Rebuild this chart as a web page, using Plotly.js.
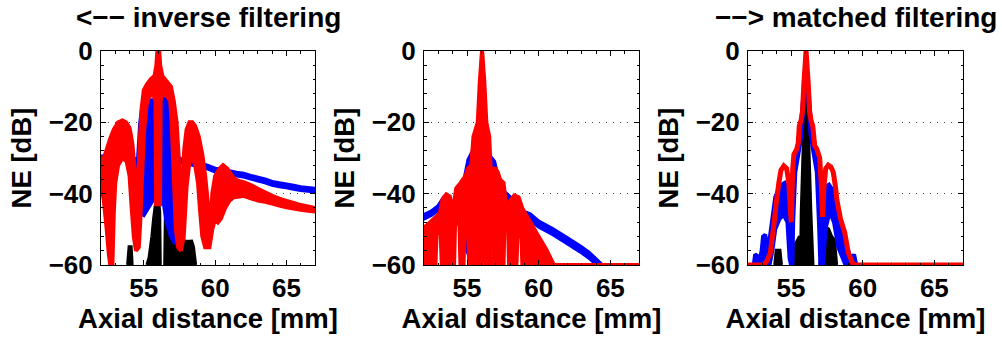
<!DOCTYPE html>
<html>
<head>
<meta charset="utf-8">
<script src="https://cdn.plot.ly/plotly-3.0.1.min.js"></script>
<style>html,body{margin:0;padding:0;background:#fff;}#chart{width:1002px;height:339px;}</style>
</head>
<body>
<div id="chart"></div>
<script>
// ---------------- data ----------------
const panelTitles = ["&lt;\u2212\u2212 inverse filtering", "", "\u2212\u2212&gt; matched filtering"];
const xTickVals = [55, 60, 65];
const yTickVals = [-60, -40, -20, 0];
const xRange = [52, 67];
const yRange = [-60, 0];

// Panel 1 (inverse filtering)
const p1BlackX = [53.9,54.0,54.08,54.15,null,55.25,55.4,55.5,55.6,55.72,55.85,56.0,56.08,56.12,null,56.5,56.55,56.7,56.85,57.0,57.1,57.25,57.4,57.55,57.7,57.85,58.0,58.15,58.3,58.45,58.6];
const p1BlackY = [-60,-55,-55,-60,null,-60,-58,-55,-52,-47,-43,-42,-45,-60,null,-60,-45,-44,-47,-50,-48,-52,-50,-53,-51,-55,-53,-56,-53,-55,-60];

const p1BlueHiX = [52,52.5,53,53.5,54,54.4,54.6,54.75,54.9,55.2,55.5,55.8,56,56.25,56.5,56.8,57,57.2,57.35,57.5,58,58.5,59,59.5,60,60.5,61,61.5,62,62.5,63,63.5,64,64.5,65,65.5,66,66.5,67];
const p1BlueHiY = [-29.5,-29.8,-29.2,-28.6,-29.2,-30.5,-30,-20,-15.5,-14.5,-13.8,-13.8,-14.5,-13.2,-13.5,-15,-18,-24,-29,-30.3,-30.6,-31.2,-31.6,-32.2,-33,-33.3,-33.7,-34.1,-34.4,-35,-35.5,-36,-36.7,-37.1,-37.4,-37.8,-38.2,-38.4,-38.6];
const p1BlueLoX = [52,52.5,53,53.5,54,54.4,54.6,55,55.3,55.6,55.8,55.85,56.2,56.3,56.6,56.9,57.2,57.4,57.5,58,58.5,59,59.5,60,60.5,61,61.5,62,62.5,63,63.5,64,64.5,65,65.5,66,66.5,67];
const p1BlueLoY = [-30.3,-30.6,-30,-29.4,-30,-31.3,-45,-46,-44,-42,-30,-15,-15,-40,-48,-52,-54,-50,-31.1,-31.4,-32,-32.4,-33,-33.8,-34.1,-34.5,-34.9,-35.2,-35.8,-36.3,-36.8,-37.5,-37.9,-38.2,-38.6,-39,-39.2,-39.4];

const p1RedHiX = [52,52.25,52.45,52.65,52.9,53.2,53.5,53.75,54,54.2,54.35,54.5,54.55,54.62,54.72,54.85,55,55.2,55.5,55.75,55.88,55.95,56.08,56.15,56.3,56.6,56.9,57.1,57.3,57.45,57.55,57.6,57.7,57.85,58,58.2,58.4,58.6,58.85,59.1,59.3,59.5,59.6,59.65,59.8,60,60.3,60.55,60.85,61.1,61.4,61.7,62,62.5,63,63.5,64,64.5,65,65.5,66,66.5,67];
const p1RedHiY = [-30.5,-29.5,-27,-24.5,-22,-20,-19.5,-20,-21.5,-26,-33,-42,-47,-35,-25,-16,-11,-9.5,-7.8,-7,-4,0,0,-4,-7,-8.5,-10,-14,-20,-30,-42,-48,-36,-27,-22,-20,-20,-21,-24,-29,-35,-43,-50,-53,-40,-35,-33,-32,-33,-34.5,-36,-36.5,-36.8,-37.6,-38.6,-39.6,-40.6,-41.4,-42,-42.6,-43.2,-43.6,-44];
const p1RedLoX = [52,52.2,52.4,52.55,52.65,52.8,52.9,53,53.2,53.5,53.8,54,54.15,54.3,54.45,54.65,54.75,54.85,54.95,55.05,55.2,55.4,55.7,55.82,55.86,56.14,56.18,56.3,56.6,56.85,56.95,57.05,57.15,57.25,57.4,57.6,57.8,57.9,58,58.2,58.4,58.6,58.8,58.95,59.1,59.3,59.6,59.8,60,60.2,60.4,60.7,61,61.3,61.7,62,62.5,63,63.5,64,64.5,65,65.5,66,66.5,67];
const p1RedLoY = [-37,-42,-50,-57,-60,-60,-45,-37,-32,-30,-31,-35,-44,-52,-56,-55,-48,-38,-28,-21,-15,-12.5,-12.5,-14,-43,-43,-14,-12,-12.5,-14,-20,-30,-40,-50,-55,-56,-52,-45,-38,-31,-30,-32,-37,-45,-52,-55,-55,-50,-47,-48,-47,-44,-42,-41,-40.8,-40.6,-41.3,-41.9,-42.3,-42.8,-43.3,-43.8,-44.2,-44.5,-44.8,-45];

// Panel 2
const p2BlackX = [55.88,55.97,56.05,56.15,56.3,56.38,null,57.38,57.45,57.52];
const p2BlackY = [-60,-15,0,-15,-28,-60,null,-60,-51,-60];

const p2BlueHiX = [52,52.5,53,53.4,53.7,54,54.4,54.8,55.1,55.35,55.6,55.9,56.05,56.3,56.6,56.9,57.2,57.6,58,58.4,58.8,59.4,60,61,62,62.9,63.5,64.1,64.4,67];
const p2BlueHiY = [-46,-45,-43.5,-41,-41.5,-42.5,-40.5,-36.5,-30.5,-28.5,-28.5,-29.5,-25,-29.5,-29.5,-31,-36.5,-39.5,-41,-42.8,-44.8,-45.8,-47.8,-50,-52.5,-54.8,-56.5,-58.8,-60,-60];
const p2BlueLoX = [52,52.5,53,53.4,53.7,54,54.4,54.8,55.2,55.5,56.8,57.2,57.6,58,58.4,58.8,59.4,60,61,62,62.9,63.5,64.1,67];
const p2BlueLoY = [-47,-46,-44.5,-42.2,-43,-44.5,-47.5,-54.5,-57.5,-60,-60,-57.5,-49.5,-44.5,-44.5,-46.2,-47.2,-49.2,-51.4,-53.9,-56.2,-57.9,-60,-60];

const p2RedHiX = [52,52.3,52.7,53.1,53.3,53.55,53.8,54,54.25,54.55,54.9,55.05,55.3,55.45,55.75,55.9,56.05,56.2,56.35,56.55,56.65,57,57.15,57.3,57.55,57.75,58,58.3,58.6,58.85,59.2,59.85,60.55,61,61.1,67];
const p2RedHiY = [-49.5,-48.5,-47,-45.5,-41.5,-40.2,-40.8,-45,-38.5,-37,-35,-33,-32,-24,-20,-8,0,-8,-20,-24,-33,-33,-34,-36,-37,-44,-42,-40.5,-41,-44,-46.5,-51,-55.8,-59.5,-60,-60];
const p2RedLoX = [52,52.8,52.88,53.16,53.24,54.1,54.18,54.46,54.54,54.76,54.83,55.08,55.15,55.72,55.78,55.96,55.99,56.11,56.14,56.32,56.36,56.4,56.44,56.66,56.7,57.55,57.61,57.87,57.93,58.45,58.52,58.8,58.86,67];
const p2RedLoY = [-60,-60,-51,-51,-60,-60,-46,-46,-60,-60,-50,-50,-60,-60,-35,-35,-60,-60,-34,-34,-60,-60,-36,-36,-60,-60,-49,-49,-60,-60,-52,-52,-60,-60];

// Panel 3 (matched filtering)
const p3BlackX = [53.9,54.0,54.2,54.3,null,55.25,55.35,55.5,55.62,55.7,55.75,55.9,56.05,56.2,56.35,56.5,null,57.05,57.2,57.4,57.6,57.8,58.0,58.15];
const p3BlackY = [-60,-56,-56,-60,null,-60,-54,-53,-52,-60,-45,-25,0,-25,-45,-60,null,-60,-53,-49.5,-50,-52,-53,-60];

const p3BlueHiX = [52,52.4,52.5,52.65,52.8,52.95,53.05,53.2,53.35,53.5,53.7,53.9,54.1,54.35,54.55,54.75,54.9,55,55.08,55.15,55.4,55.55,55.7,55.85,56.05,56.25,56.4,56.55,56.75,56.95,57.05,57.15,57.3,57.45,57.65,57.9,58.1,58.3,58.5,58.7,58.85,59,59.2,59.4,59.55,67];
const p3BlueHiY = [-60,-60,-57,-57.5,-59,-56,-52,-51.5,-55,-53,-47,-41,-39,-37.5,-37,-39,-45,-55,-42,-32,-28.5,-24,-20.5,-13,-1,-13,-20.5,-24,-28.5,-32,-42,-55,-42,-38,-37.5,-39,-43,-48,-49,-52,-55,-56,-59,-57,-60,-60];
const p3BlueLoX = [52,53.5,53.7,53.9,54.2,54.5,54.75,54.9,55,55.1,55.15,55.3,55.55,55.75,55.95,56.05,56.15,56.35,56.55,56.8,56.95,57.05,57.25,57.4,57.7,58,58.3,58.6,58.8,67];
const p3BlueLoY = [-60,-60,-56,-50,-47,-46,-48,-58,-60,-60,-48,-34,-28,-23,-10,-4,-10,-23,-28,-34,-48,-60,-60,-50,-45,-48,-55,-58,-60,-60];

const p3RedX = [52,53.1,53.3,53.55,53.8,54,54.15,54.3,54.5,54.7,54.85,54.95,55.02,55.12,55.2,55.4,55.5,55.58,55.7,55.8,55.9,56.05,56.2,56.3,56.4,56.52,56.65,56.8,57,57.12,57.2,57.3,57.42,57.6,57.78,57.95,58.1,58.2,58.45,58.75,59,59.3,59.45,67];
const p3RedY = [-60,-60,-59,-56.7,-49,-41.7,-37,-33.4,-32.2,-33,-37,-44,-48,-33,-29,-27.5,-26,-21,-19.5,-17,-9,0,-9,-17,-19.5,-21,-26.5,-27.5,-30,-38,-46.5,-38,-33,-32,-32.5,-34,-38,-41.7,-47,-51,-56.6,-59.5,-60,-60];

// ---------------- drawing ----------------
const BLACK = '#000000', BLUE = '#0000ff', RED = '#ff0000';
const LW = 4;

function bandTrace(xh, yh, xl, yl, color, ax) {
  const X = xh.slice(), Y = yh.slice();
  for (let i = xl.length - 1; i >= 0; i--) { X.push(xl[i]); Y.push(yl[i]); }
  X.push(xh[0]); Y.push(yh[0]);
  return {type:'scatter', mode:'lines', x:X, y:Y, fill:'toself', fillcolor:color,
          line:{color:color, width:LW, simplify:false}, xaxis:'x'+ax, yaxis:'y'+ax, hoverinfo:'skip', showlegend:false};
}
function floorTrace(xs, ys, color, ax) {
  return {type:'scatter', mode:'lines', x:xs, y:ys, fill:'toself', fillcolor:color, connectgaps:false,
          line:{color:color, width:LW, simplify:false}, xaxis:'x'+ax, yaxis:'y'+ax, hoverinfo:'skip', showlegend:false};
}
function lineTrace(xs, ys, color, ax, w) {
  return {type:'scatter', mode:'lines', x:xs, y:ys, line:{color:color, width:w, simplify:false},
          xaxis:'x'+ax, yaxis:'y'+ax, hoverinfo:'skip', showlegend:false};
}

const traces = [
  floorTrace(p1BlackX, p1BlackY, BLACK, ''),
  bandTrace(p1BlueHiX, p1BlueHiY, p1BlueLoX, p1BlueLoY, BLUE, ''),
  bandTrace(p1RedHiX, p1RedHiY, p1RedLoX, p1RedLoY, RED, ''),
  floorTrace(p2BlackX, p2BlackY, BLACK, '2'),
  bandTrace(p2BlueHiX, p2BlueHiY, p2BlueLoX, p2BlueLoY, BLUE, '2'),
  bandTrace(p2RedHiX, p2RedHiY, p2RedLoX, p2RedLoY, RED, '2'),
  floorTrace(p3BlackX, p3BlackY, BLACK, '3'),
  bandTrace(p3BlueHiX, p3BlueHiY, p3BlueLoX, p3BlueLoY, BLUE, '3'),
  lineTrace(p3RedX, p3RedY, RED, '3', 5)
];

const W = 1002, H = 339;
const FONT = 'Liberation Sans, Arial, Helvetica, sans-serif';
const panelsPx = [[101, 315], [424, 639], [748, 963]];
const yTopPx = 51, yBotPx = 265;

function xAxis(i) {
  return {
    domain: [panelsPx[i][0] / W, panelsPx[i][1] / W],
    anchor: i === 0 ? 'y' : 'y' + (i + 1),
    range: xRange, tickvals: xTickVals, ticktext: xTickVals.map(String),
    ticks: 'inside', ticklen: 5, tickwidth: 1, tickcolor: '#000',
    minor: {ticks: 'inside', ticklen: 2.5, tickwidth: 1, dtick: 1, tick0: 0, tickcolor: '#000'},
    showline: true, linecolor: '#000', linewidth: 1, mirror: 'ticks',
    showgrid: false, zeroline: false, automargin: false,
    tickfont: {family: FONT, size: 26, color: '#000', weight: 'bold'},
    ticklabelstandoff: 0,
    title: {text: 'Axial distance [mm]', font: {family: FONT, size: 27.5, color: '#000', weight: 'bold'}, standoff: 5}
  };
}
function yAxis(i) {
  return {
    domain: [1 - yBotPx / H, 1 - yTopPx / H],
    anchor: i === 0 ? 'x' : 'x' + (i + 1),
    range: yRange, tickvals: yTickVals,
    ticks: 'inside', ticklen: 5, tickwidth: 1, tickcolor: '#000',
    minor: {ticks: 'inside', ticklen: 2.5, tickwidth: 1, dtick: 4, tick0: 0, tickcolor: '#000'},
    showline: true, linecolor: '#000', linewidth: 1, mirror: 'ticks',
    showgrid: true, gridcolor: '#444', gridwidth: 1, griddash: '1px,6px',
    zeroline: false, automargin: false,
    tickfont: {family: FONT, size: 26, color: '#000', weight: 'bold'},
    ticklabelstandoff: 2,
    title: {text: 'NE [dB]', font: {family: FONT, size: 27.5, color: '#000', weight: 'bold'}, standoff: 9}
  };
}

const layout = {
  width: W, height: H,
  margin: {l: 0, r: 0, t: 0, b: 0, pad: 0},
  paper_bgcolor: '#fff', plot_bgcolor: '#fff',
  showlegend: false, hovermode: false,
  xaxis: xAxis(0), yaxis: yAxis(0),
  xaxis2: xAxis(1), yaxis2: yAxis(1),
  xaxis3: xAxis(2), yaxis3: yAxis(2),
  annotations: panelTitles.map((t, i) => ({
    text: t, showarrow: false,
    xref: (i === 0 ? 'x' : 'x' + (i + 1)) + ' domain', x: 0.5, xanchor: 'center',
    yref: 'paper', y: 1 - 18 / H, yanchor: 'middle',
    font: {family: FONT, size: 28, color: '#000', weight: 'bold'}
  })).filter(a => a.text !== '')
};

Plotly.newPlot('chart', traces, layout, {staticPlot: true, displayModeBar: false});
</script>
</body>
</html>
